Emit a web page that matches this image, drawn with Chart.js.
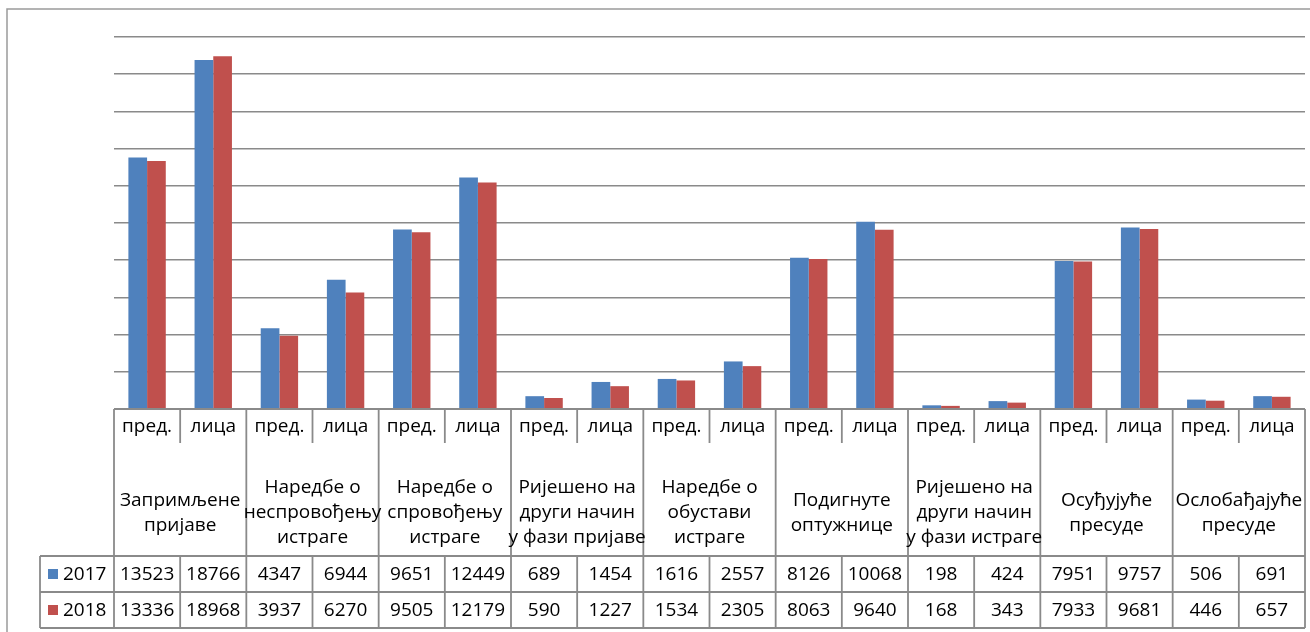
<!DOCTYPE html>
<html>
<head>
<meta charset="utf-8">
<script src="https://cdn.jsdelivr.net/npm/chart.js@4"></script>
<style>
  html, body { margin: 0; padding: 0; background: #fff; }
  canvas { display: block; }
</style>
</head>
<body>
<canvas id="chart" width="1310" height="632"></canvas>
<script>
// Sub labels (one per bar pair) and the group labels under them
const subLabels = ['пред.', 'лица', 'пред.', 'лица', 'пред.', 'лица', 'пред.', 'лица', 'пред.', 'лица',
                   'пред.', 'лица', 'пред.', 'лица', 'пред.', 'лица', 'пред.', 'лица'];
const groupLabels = [
    ['Запримљене', 'пријаве'],
    ['Наредбе о', 'неспровођењу', 'истраге'],
    ['Наредбе о', 'спровођењу', 'истраге'],
    ['Ријешено на', 'други начин', 'у фази пријаве'],
    ['Наредбе о', 'обустави', 'истраге'],
    ['Подигнуте', 'оптужнице'],
    ['Ријешено на', 'други начин', 'у фази истраге'],
    ['Осуђујуће', 'пресуде'],
    ['Ослобађајуће', 'пресуде']
];
const seriesNames = ['2017', '2018'];
const values2017 = [13523, 18766, 4347, 6944, 9651, 12449, 689, 1454, 1616, 2557, 8126, 10068, 198, 424, 7951, 9757, 506, 691];
const values2018 = [13336, 18968, 3937, 6270, 9505, 12179, 590, 1227, 1534, 2305, 8063, 9640, 168, 343, 7933, 9681, 446, 657];
const colors = ['#4F81BD', '#C0504D'];

const FONT = '19px "Open Sans"';
const LINE = '#8a8a8a';

// Draws the frame and the data table under the plot, aligned to the x scale
const dataTablePlugin = {
    id: 'dataTable',
    afterDraw(chart) {
        const ctx = chart.ctx;
        const area = chart.chartArea;
        const xs = chart.scales.x;
        const n = subLabels.length;
        const colW = (area.right - area.left) / n;
        const yAxis = area.bottom;
        const ySub = yAxis + 34;
        const yRow1 = yAxis + 147;
        const yRow2 = yRow1 + 36;
        const yRow3 = yRow2 + 36;
        const legLeft = 40;

        ctx.save();

        // outer frame
        ctx.strokeStyle = '#9a9a9a';
        ctx.lineWidth = 1.5;
        ctx.beginPath();
        ctx.moveTo(7, 700);
        ctx.lineTo(7, 9);
        ctx.lineTo(1320, 9);
        ctx.stroke();

        ctx.strokeStyle = LINE;
        ctx.lineWidth = 1.8;
        ctx.beginPath();
        // axis line and row lines
        ctx.moveTo(area.left, yAxis); ctx.lineTo(area.right, yAxis);
        [yRow1, yRow2, yRow3].forEach(y => { ctx.moveTo(legLeft, y); ctx.lineTo(area.right, y); });
        // left / right edges
        ctx.moveTo(area.left, yAxis); ctx.lineTo(area.left, yRow3);
        ctx.moveTo(area.right, yAxis); ctx.lineTo(area.right, yRow3);
        ctx.moveTo(legLeft, yRow1); ctx.lineTo(legLeft, yRow3);
        for (let i = 1; i < n; i++) {
            const x = xs.getPixelForValue(i) - colW / 2;
            if (i % 2 === 0) {
                ctx.moveTo(x, yAxis); ctx.lineTo(x, yRow3);
            } else {
                ctx.moveTo(x, yAxis); ctx.lineTo(x, ySub);
                ctx.moveTo(x, yRow1); ctx.lineTo(x, yRow3);
            }
        }
        ctx.stroke();

        ctx.fillStyle = '#000';
        ctx.font = FONT;
        ctx.textAlign = 'center';
        ctx.textBaseline = 'middle';

        // sub labels and values
        for (let i = 0; i < n; i++) {
            const cx = xs.getPixelForValue(i);
            ctx.fillText(subLabels[i], cx, yAxis + 18);
            ctx.fillText(String(values2017[i]), cx, yRow1 + 19);
            ctx.fillText(String(values2018[i]), cx, yRow2 + 19);
        }

        // group labels, centred over each pair of columns
        const lineH = 25;
        const midY = yAxis + 104;
        groupLabels.forEach((lines, g) => {
            const cx = (xs.getPixelForValue(g * 2) + xs.getPixelForValue(g * 2 + 1)) / 2;
            const top = midY - (lines.length - 1) * lineH / 2;
            lines.forEach((t, k) => ctx.fillText(t, cx, top + k * lineH));
        });

        // legend keys in the first column
        ctx.textAlign = 'left';
        [yRow1, yRow2].forEach((y, s) => {
            ctx.fillStyle = colors[s];
            ctx.fillRect(48, y + 13, 10, 10);
            ctx.fillStyle = '#000';
            ctx.fillText(seriesNames[s], 63, y + 19);
        });

        ctx.restore();
    }
};

new Chart(document.getElementById('chart'), {
    type: 'bar',
    data: {
        labels: subLabels,
        datasets: [
            { label: seriesNames[0], data: values2017, backgroundColor: colors[0] },
            { label: seriesNames[1], data: values2018, backgroundColor: colors[1] }
        ]
    },
    options: {
        responsive: false,
        devicePixelRatio: 1,
        animation: false,
        layout: { padding: { left: 114, right: 5, top: 37, bottom: 223 } },
        datasets: {
            bar: { categoryPercentage: 0.565, barPercentage: 1.0, borderWidth: 0 }
        },
        plugins: {
            legend: { display: false },
            tooltip: { enabled: false }
        },
        scales: {
            x: { display: false },
            y: {
                min: 0,
                max: 20000,
                ticks: { display: false, stepSize: 2000 },
                border: { display: false },
                grid: { color: LINE, lineWidth: 1.5, drawTicks: false, tickLength: 0 }
            }
        }
    },
    plugins: [dataTablePlugin]
});
</script>
</body>
</html>
